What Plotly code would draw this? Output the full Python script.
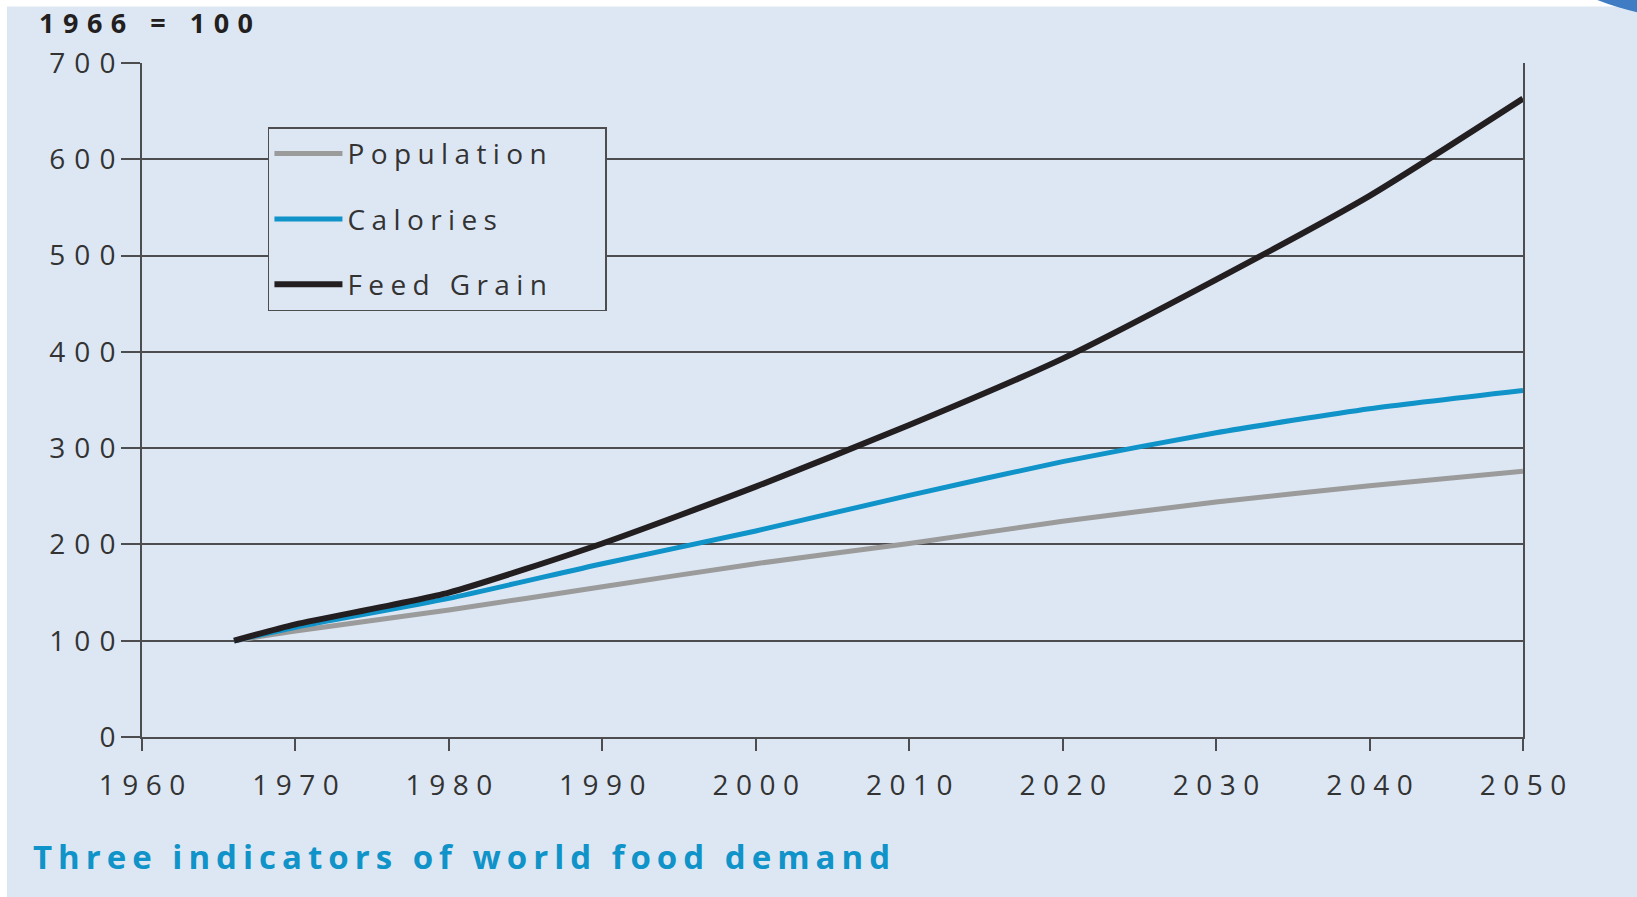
import plotly.graph_objects as go

years = [1966, 1970, 1980, 1990, 2000, 2010, 2020, 2030, 2040, 2050]
population = [100, 110, 132, 156, 180, 201, 224, 244, 261, 276]
calories = [100, 114, 144, 180, 214, 251, 286, 316, 341, 360]
feed_grain = [100, 117, 150, 201, 260, 324, 393, 475, 562, 663]

x_ticks = [1960, 1970, 1980, 1990, 2000, 2010, 2020, 2030, 2040, 2050]
y_ticks = [0, 100, 200, 300, 400, 500, 600, 700]

BG = "#dde7f3"
GRID = "#4d4d4f"
FONT = "Open Sans"


def spaced(text, px):
    """Letter-spaced text without trailing gap after the last character."""
    text = str(text)
    if len(text) < 2:
        return text
    return f'<span style="letter-spacing:{px}px">{text[:-1]}</span>{text[-1]}'


PAD = '<span style="letter-spacing:46px">\u00a0</span>'

fig = go.Figure()
series = [
    ("Population", population, "#9b9b9b", 5),
    ("Calories", calories, "#0f93c8", 5),
    ("Feed Grain", feed_grain, "#231f20", 6),
]
for name, vals, col, w in series:
    fig.add_trace(go.Scatter(
        x=years, y=vals, mode="lines", name=spaced(name, 6.4) + PAD, legendgroup=name,
        line=dict(color=col, width=w, shape="spline", smoothing=0.6),
    ))

fig.update_layout(
    width=1637, height=897,
    margin=dict(l=142, r=114, t=63, b=160),
    paper_bgcolor="white",
    plot_bgcolor=BG,
    font=dict(family=FONT, color="#333333", size=28),
    showlegend=True,
    legend=dict(
        x=0.0912, y=0.9045, xanchor="left", yanchor="top",
        bgcolor=BG, bordercolor=GRID, borderwidth=1.5,
        font=dict(family=FONT, size=28, color="#333333"),
        tracegroupgap=26, itemwidth=68,
    ),
    xaxis=dict(
        range=[1960, 2050], tickvals=x_ticks, ticktext=[spaced(v, 7.5) for v in x_ticks],
        showgrid=False, zeroline=False,
        showline=True, linecolor=GRID, linewidth=2, mirror=False,
        ticks="outside", ticklen=12, tickwidth=2, tickcolor=GRID,
        ticklabelstandoff=10,
        tickfont=dict(family=FONT, size=28, color="#333333"),
    ),
    yaxis=dict(
        range=[0, 700], tickvals=y_ticks, ticktext=[spaced(v, 9) for v in y_ticks],
        showgrid=True, gridcolor=GRID, gridwidth=1.5, zeroline=False,
        showline=True, linecolor=GRID, linewidth=2, mirror=True,
        ticks="outside", ticklen=19, tickwidth=2, tickcolor=GRID,
        ticklabelstandoff=0,
        tickfont=dict(family=FONT, size=28, color="#333333"),
    ),
)

# light blue background panel (with thin white strips at top/left)
fig.add_shape(type="rect", xref="paper", yref="paper", layer="below",
              x0=(7 - 142) / 1381, x1=(1637 - 142) / 1381 + 0.01,
              y0=(737 - 897) / 674.4 - 0.01, y1=(737 - 6) / 674.4,
              fillcolor=BG, line=dict(width=0))
# decorative blue corner arc (top right)
fig.add_shape(type="circle", xref="paper", yref="paper", layer="above",
              x0=(1419 - 142) / 1381, x1=(1981 - 142) / 1381,
              y0=(737 - 19) / 674.4, y1=(737 + 543) / 674.4,
              fillcolor="#3f7cc4", line=dict(width=0))

fig.add_annotation(text="<b>" + spaced("1966 = 100", 8.5) + "</b>", xref="paper", yref="paper",
                   x=(37 - 142) / 1381, y=(737 - 22) / 674.4,
                   xanchor="left", yanchor="middle", showarrow=False,
                   font=dict(family=FONT, size=27, color="#231f20"))
fig.add_annotation(text="<b>" + spaced("Three indicators of world food demand", 6) + "</b>",
                   xref="paper", yref="paper",
                   x=(31 - 142) / 1381, y=(737 - 857) / 674.4,
                   xanchor="left", yanchor="middle", showarrow=False,
                   font=dict(family=FONT, size=33, color="#0f93c8"))

fig.write_html("out.html")
